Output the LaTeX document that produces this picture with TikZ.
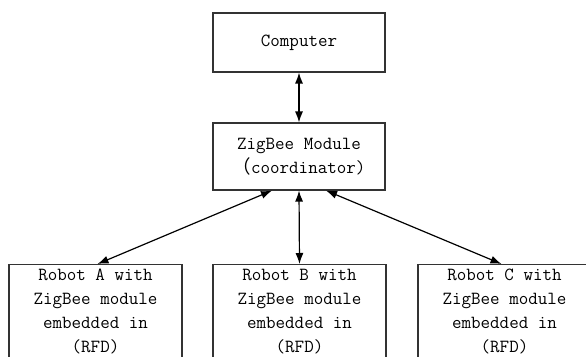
\documentclass[tikz,border=0pt]{standalone}
\usepackage{fontspec}
\newfontfamily\cjk{Noto Sans CJK SC}
\usetikzlibrary{arrows.meta,calc}
\begin{document}
\begin{tikzpicture}[x=1pt,y=-1pt,
  box/.style={draw=black!80,line width=1.1pt,minimum width=172pt,inner sep=0pt,align=center,
    font=\fontsize{18.5}{24}\ttfamily},
  link/.style={line width=1.2pt,{Latex[length=11pt,width=8pt]}-{Latex[length=11pt,width=8pt]}}]
\useasboundingbox (0,0) rectangle (586,356);
\clip (0,0) rectangle (586,356);
\fill[white] (0,0) rectangle (586,356);
\node[box,minimum height=59pt] (comp) at (299,42.5) {Computer};
\node[box,minimum height=67pt] (zig) at (299,156.5) {ZigBee Module\\{\cjk （}coordinator)};
\node[box,minimum height=94pt,minimum width=173pt,anchor=north] (ra) at (95.5,264) {Robot A with\\ZigBee module\\embedded in\\(RFD)};
\node[box,minimum height=94pt,minimum width=173pt,anchor=north] (rb) at (299.5,264) {Robot B with\\ZigBee module\\embedded in\\(RFD)};
\node[box,minimum height=94pt,minimum width=173pt,anchor=north] (rc) at (504.5,264) {Robot C with\\ZigBee module\\embedded in\\(RFD)};
\coordinate (za) at ($(zig.south)+(-27,0)$);
\coordinate (zc) at ($(zig.south)+(27,0)$);
\draw[link] (comp.south) -- (zig.north);
\draw[link] (za) -- ($(ra.north)+(2,0)$);
\draw[link] (zig.south) -- (rb.north);
\draw[link] (zc) -- ($(rc.north)+(-3,0)$);
\end{tikzpicture}
\end{document}
